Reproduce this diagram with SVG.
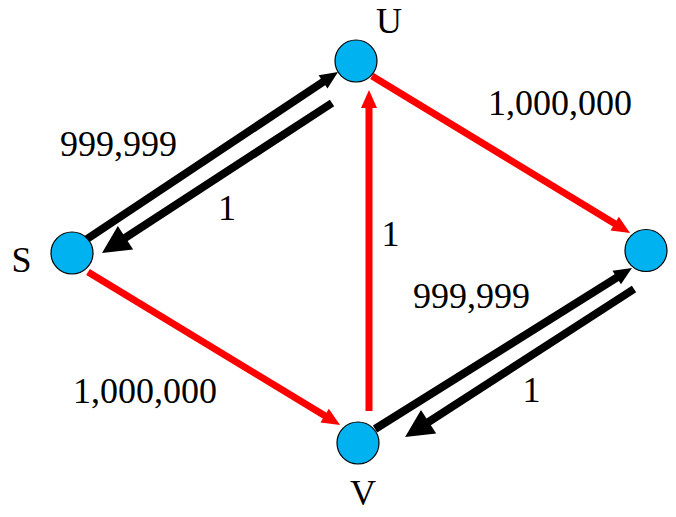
<svg xmlns="http://www.w3.org/2000/svg" width="676" height="517" viewBox="0 0 676 517">
<style>
.bg{fill:#ffffff}
.node{fill:#00B2F0;stroke:#000000;stroke-width:1.2}
.blk{stroke:#000000;stroke-width:8;fill:none}
.red{stroke:#FF0000;stroke-width:7;fill:none}
text{font-family:"Liberation Serif","Times New Roman",serif;font-size:36px;fill:#000000}
.mid{text-anchor:middle}
</style>
<defs>
<marker id="hsb" markerUnits="userSpaceOnUse" markerWidth="18" markerHeight="16" refX="8" refY="8" orient="auto" overflow="visible"><path d="M0,0 L18,8 L0,16 z" fill="#000000"/></marker>
<marker id="hsr" markerUnits="userSpaceOnUse" markerWidth="18" markerHeight="16" refX="8" refY="8" orient="auto" overflow="visible"><path d="M0,0 L18,8 L0,16 z" fill="#FF0000"/></marker>
<marker id="hlb" markerUnits="userSpaceOnUse" markerWidth="28" markerHeight="28" refX="10" refY="14" orient="auto" overflow="visible"><path d="M0,0 L28,14 L0,28 z" fill="#000000"/></marker>
</defs>
<rect class="bg" x="0" y="0" width="676" height="517"/>
<g id="connectors">
<line class="blk" x1="84" y1="241" x2="329.7" y2="77.5" marker-end="url(#hsb)"/>
<line class="blk" x1="332" y1="103" x2="117.1" y2="243.2" marker-end="url(#hlb)"/>
<line class="red" x1="88" y1="272" x2="331.5" y2="419.8" marker-end="url(#hsr)"/>
<line class="red" x1="369" y1="411" x2="369" y2="100" marker-end="url(#hsr)"/>
<line class="red" x1="372" y1="76" x2="621.5" y2="227.8" marker-end="url(#hsr)"/>
<line class="blk" x1="375" y1="429" x2="623.5" y2="273.3" marker-end="url(#hsb)"/>
<line class="blk" x1="634" y1="289" x2="420.2" y2="427.3" marker-end="url(#hlb)"/>
</g>
<g id="edge-labels">
<text x="60" y="156">999,999</text>
<text class="mid" x="227" y="220">1</text>
<text x="488" y="115">1,000,000</text>
<text class="mid" x="390.5" y="246">1</text>
<text x="413" y="308">999,999</text>
<text class="mid" x="531.5" y="402">1</text>
<text x="73" y="403">1,000,000</text>
</g>
<g id="node-U"><circle class="node" cx="356" cy="61" r="21"/><text class="mid" x="389" y="33">U</text></g>
<g id="node-S"><circle class="node" cx="72" cy="253" r="21"/><text class="mid" x="21.5" y="272">S</text></g>
<g id="node-T"><circle class="node" cx="646" cy="250.5" r="21"/></g>
<g id="node-V"><circle class="node" cx="358" cy="443" r="21"/><text class="mid" x="363" y="505">V</text></g>
</svg>
